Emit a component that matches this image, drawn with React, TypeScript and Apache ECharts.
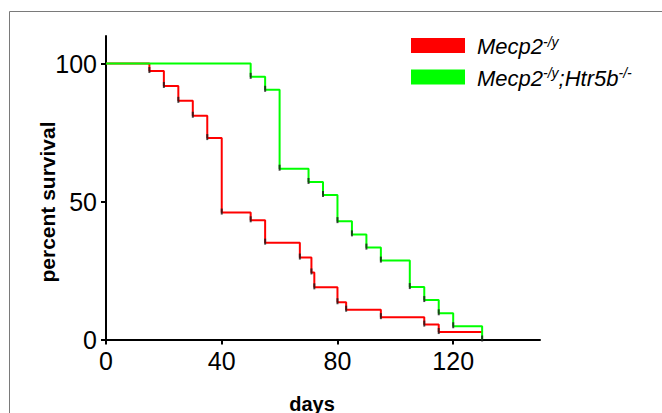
import React, { useEffect, useRef } from "react";
import * as echarts from "echarts";

const redName = "Mecp2-/y";
const greenName = "Mecp2-/y;Htr5b-/-";

// Kaplan-Meier steps: day of drop, survival after drop (%)
const redDays = [0, 15, 20, 25, 30, 35, 40, 50, 55, 67, 71, 72, 80, 83, 95, 110, 115, 130];
const redSurv = [100, 97.3, 91.9, 86.5, 81.1, 73.0, 46.0, 43.2, 35.1, 29.7, 24.3, 18.9, 13.5, 10.8, 8.1, 5.4, 2.7, 2.7];

const greenDays = [0, 50, 55, 60, 70, 75, 80, 85, 90, 95, 105, 110, 115, 120, 130];
const greenSurv = [100, 95.2, 90.5, 61.9, 57.1, 52.4, 42.9, 38.1, 33.3, 28.6, 19.0, 14.3, 9.5, 4.8, 0];

const xTicks = [0, 40, 80, 120];
const yTicks = [0, 50, 100];

const FONT = "'Liberation Sans', Arial, Helvetica, sans-serif";

export default function App() {
  const ref = useRef<HTMLDivElement>(null);
  useEffect(() => {
    if (!ref.current) return;
    const chart = echarts.init(ref.current, null, { renderer: "svg" });

    const redData = redDays.map((d, i) => [d, redSurv[i]]);
    const greenData = greenDays.map((d, i) => [d, greenSurv[i]]);
    const redMarks = redData.slice(1, redData.length - 1);
    const greenMarks = greenData.slice(1);

    const option: any = {
      animation: false,
      backgroundColor: "#fff",
      grid: { left: 106, top: 36, width: 434, height: 303.5, containLabel: false },
      xAxis: {
        type: "value",
        min: 0,
        max: 150,
        interval: 40,
        splitLine: { show: false },
        axisLine: { show: true, onZero: false, lineStyle: { color: "#000", width: 2 } },
        axisTick: { show: true, length: 5, lineStyle: { color: "#000", width: 2 }, customValues: xTicks },
        axisLabel: { fontSize: 25, fontFamily: FONT, color: "#000", margin: 9, customValues: xTicks },
      },
      yAxis: {
        type: "value",
        min: 0,
        max: 110,
        interval: 50,
        splitLine: { show: false },
        axisLine: { show: true, onZero: false, lineStyle: { color: "#000", width: 2 } },
        axisTick: { show: true, length: 5, lineStyle: { color: "#000", width: 2 }, customValues: yTicks },
        axisLabel: { fontSize: 25, fontFamily: FONT, color: "#000", margin: 9, customValues: yTicks },
      },
      legend: {
        orient: "vertical",
        left: 411,
        top: 34.5,
        padding: 0,
        itemGap: 8.5,
        itemWidth: 54,
        itemHeight: 15,
        icon: "rect",
        selectedMode: false,
        data: [redName, greenName],
        formatter: (name: string) =>
          name === redName ? "{i|Mecp2}{s|-/y}" : "{i|Mecp2}{s|-/y}{i|;Htr5b}{s|-/-}",
        textStyle: {
          padding: [2, 0, 0, 7],
          rich: {
            i: { fontStyle: "italic", fontSize: 22, fontFamily: FONT, color: "#000", lineHeight: 24 },
            s: { fontStyle: "italic", fontSize: 14, fontFamily: FONT, color: "#000", lineHeight: 16, verticalAlign: "top" },
          },
        },
      },
      graphic: [
        {
          type: "rect",
          silent: true,
          z: -10,
          shape: { x: 9.5, y: 11.5, width: 700, height: 500 },
          style: { fill: "none", stroke: "#7a7a7a", lineWidth: 1 },
        },
        {
          type: "text",
          silent: true,
          x: 47,
          y: 202,
          rotation: Math.PI / 2,
          style: {
            text: "percent survival",
            font: `bold 21px ${FONT}`,
            fill: "#000",
            align: "center",
            verticalAlign: "middle",
          },
        },
        {
          type: "text",
          silent: true,
          x: 312,
          y: 394,
          style: {
            text: "days",
            font: `bold 20px ${FONT}`,
            fill: "#000",
            align: "center",
            verticalAlign: "top",
          },
        },
      ],
      series: [
        {
          name: redName,
          type: "line",
          step: "end",
          showSymbol: false,
          silent: true,
          data: redData,
          color: "#ff0000",
          lineStyle: { color: "#ff0000", width: 2 },
          z: 2,
        },
        {
          name: greenName,
          type: "line",
          step: "end",
          showSymbol: false,
          silent: true,
          data: greenData,
          color: "#00ff00",
          lineStyle: { color: "#00ff00", width: 2 },
          z: 3,
        },
        {
          name: "redMarks",
          type: "scatter",
          silent: true,
          data: redMarks,
          symbol: "rect",
          symbolSize: [2, 6],
          symbolOffset: [0, -1],
          itemStyle: { color: "#1a1a1a" },
          z: 5,
        },
        {
          name: "greenMarks",
          type: "scatter",
          silent: true,
          data: greenMarks,
          symbol: "rect",
          symbolSize: [2, 6],
          symbolOffset: [0, -1],
          itemStyle: { color: "#1a1a1a" },
          z: 5,
        },
      ],
    };
    chart.setOption(option);
    return () => chart.dispose();
  }, []);

  return (
    <div
      ref={ref}
      style={{ position: "fixed", left: 0, top: 0, width: 662, height: 413, background: "#fff" }}
    />
  );
}
